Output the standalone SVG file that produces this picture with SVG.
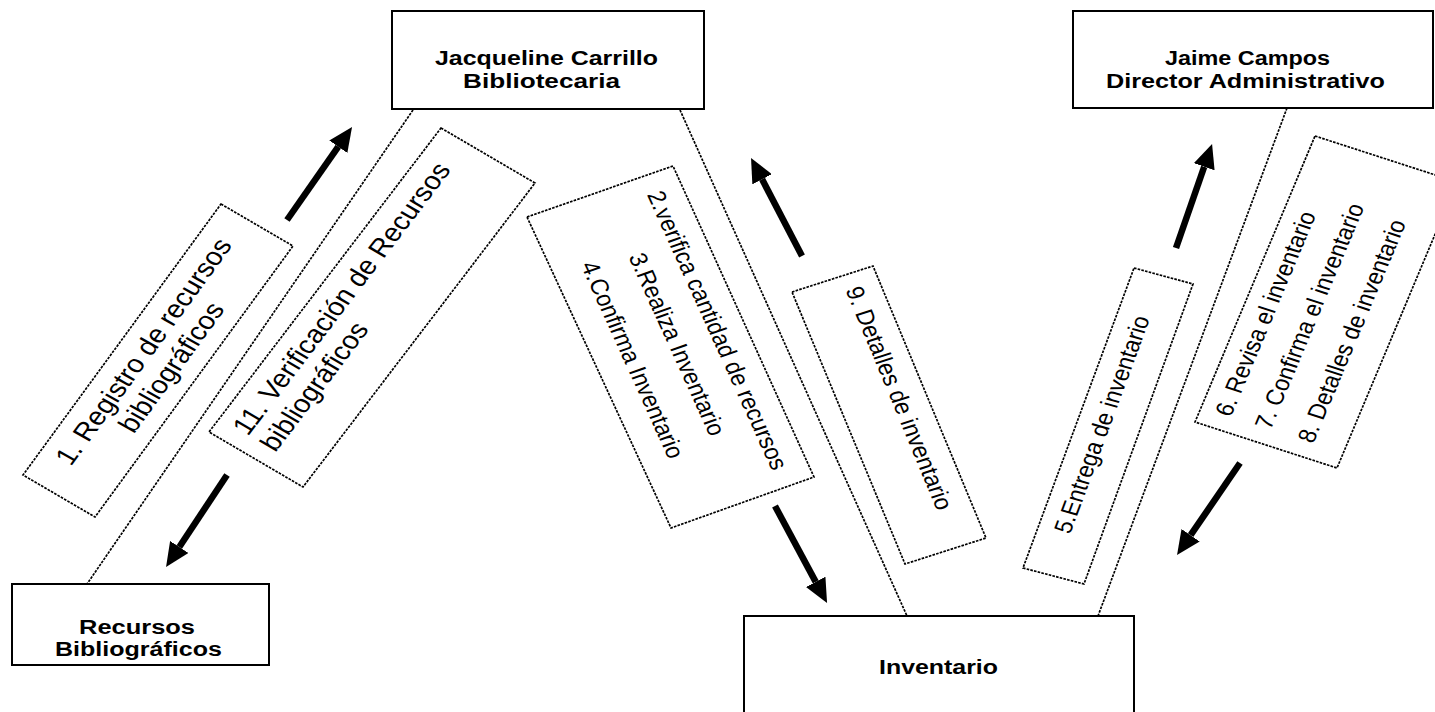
<svg xmlns="http://www.w3.org/2000/svg" width="1435" height="712" viewBox="0 0 1435 712">
  <style>
    .node rect { fill: #fff; stroke: #000; stroke-width: 2; }
    .node text { font-family: "Liberation Sans", Arial, sans-serif; font-weight: bold; font-size: 20px; fill: #000; }
    .link { fill: none; stroke: #000; stroke-width: 1.7; stroke-dasharray: 2.6 1.2; }
    .label polygon { fill: #fff; stroke: #000; stroke-width: 1.7; stroke-dasharray: 2.6 1.2; }
    .label text { font-family: "Liberation Sans", Arial, sans-serif; fill: #000; }
    .big { font-size: 25.5px; }
    .small { font-size: 22px; }
    .arrow { fill: none; stroke: #000; stroke-width: 6.5; marker-end: url(#head); }
  </style>
  <defs>
    <marker id="head" markerUnits="userSpaceOnUse" viewBox="0 -11 24 22" refX="0" refY="0" markerWidth="24" markerHeight="22" orient="auto">
      <path d="M0,-11 L24,0 L0,11 Z" fill="#000"/>
    </marker>
  </defs>

  <rect width="1435" height="712" fill="#fff"/>

  <!-- dashed connectors between the nodes -->
  <g id="connectors">
    <line class="link" x1="413" y1="110" x2="87" y2="584"/>
    <line class="link" x1="680" y1="110" x2="907" y2="616"/>
    <line class="link" x1="1287" y1="108" x2="1098" y2="616"/>
  </g>

  <!-- step labels; the text frames share a horizontal stretch of 1.14 -->
  <g id="label-registro" class="label">
    <polygon points="221,204 293,246 95,517 23,475"/>
    <g transform="translate(23,475) scale(1.14,1) rotate(-57.34)" class="big" text-anchor="middle">
      <text x="161" y="31">1. Registro de recursos</text>
      <text x="161" y="60">bibliográficos</text>
    </g>
  </g>

  <g id="label-verificacion" class="label">
    <polygon points="441,128 535,183 303,487 209,432"/>
    <g transform="translate(209,432) scale(1.14,1) rotate(-56.2)" class="big">
      <text x="15" y="31">11. Verificación de Recursos</text>
      <text x="15" y="60">bibliográficos</text>
    </g>
  </g>

  <g id="label-inventario-pasos" class="label">
    <polygon points="527,217 673,166 814,477 671,528"/>
    <g transform="translate(673,166) scale(1.14,1) rotate(68.31)" class="small" text-anchor="middle">
      <text x="167" y="32">2.verifica cantidad de recursos</text>
      <text x="167" y="70">3.Realiza Inventario</text>
      <text x="167" y="112">4.Confirma Inventario</text>
    </g>
  </g>

  <g id="label-detalles" class="label">
    <polygon points="792,292 873,266 986,538 905,564"/>
    <g transform="translate(873,266) scale(1.14,1) rotate(70)" class="small">
      <text x="14" y="31">9. Detalles de inventario</text>
    </g>
  </g>

  <g id="label-entrega" class="label">
    <polygon points="1134,268 1193,284 1084,584 1023,568"/>
    <g transform="translate(1023,568) scale(1.14,1) rotate(-72)" class="small" text-anchor="middle">
      <text x="158" y="29">5.Entrega de inventario</text>
    </g>
  </g>

  <g id="label-revision" class="label">
    <polygon points="1315,136 1457,182 1337,468 1195,422"/>
    <g transform="translate(1195,422) scale(1.14,1) rotate(-69.74)" class="small">
      <text x="15" y="28">6. Revisa el inventario</text>
      <text x="15" y="65">7. Confirma el inventario</text>
      <text x="15" y="105">8. Detalles de inventario</text>
    </g>
  </g>

  <!-- flow direction arrows -->
  <g id="flow-arrows">
    <line class="arrow" x1="287" y1="220" x2="338.3" y2="146.7"/>
    <line class="arrow" x1="227" y1="475" x2="179.3" y2="547"/>
    <line class="arrow" x1="802" y1="256" x2="762.1" y2="179.3"/>
    <line class="arrow" x1="775" y1="506" x2="815.7" y2="581.9"/>
    <line class="arrow" x1="1176" y1="248" x2="1204.2" y2="166.7"/>
    <line class="arrow" x1="1240" y1="463" x2="1190.6" y2="535.2"/>
  </g>

  <!-- actors and resources -->
  <g id="node-bibliotecaria" class="node">
    <rect x="392" y="11" width="312" height="98"/>
    <text x="435" y="65" textLength="223" lengthAdjust="spacingAndGlyphs">Jacqueline Carrillo</text>
    <text x="463" y="88" textLength="157" lengthAdjust="spacingAndGlyphs">Bibliotecaria</text>
  </g>

  <g id="node-director" class="node">
    <rect x="1073" y="11" width="360" height="97"/>
    <text x="1165" y="65" textLength="165" lengthAdjust="spacingAndGlyphs">Jaime Campos</text>
    <text x="1106" y="88" textLength="279" lengthAdjust="spacingAndGlyphs">Director Administrativo</text>
  </g>

  <g id="node-recursos" class="node">
    <rect x="12" y="584" width="257" height="81"/>
    <text x="79" y="634" textLength="116" lengthAdjust="spacingAndGlyphs">Recursos</text>
    <text x="55" y="656" textLength="167" lengthAdjust="spacingAndGlyphs">Bibliográficos</text>
  </g>

  <g id="node-inventario" class="node">
    <rect x="744" y="616" width="390" height="110"/>
    <text x="879" y="674" textLength="119" lengthAdjust="spacingAndGlyphs">Inventario</text>
  </g>
</svg>
